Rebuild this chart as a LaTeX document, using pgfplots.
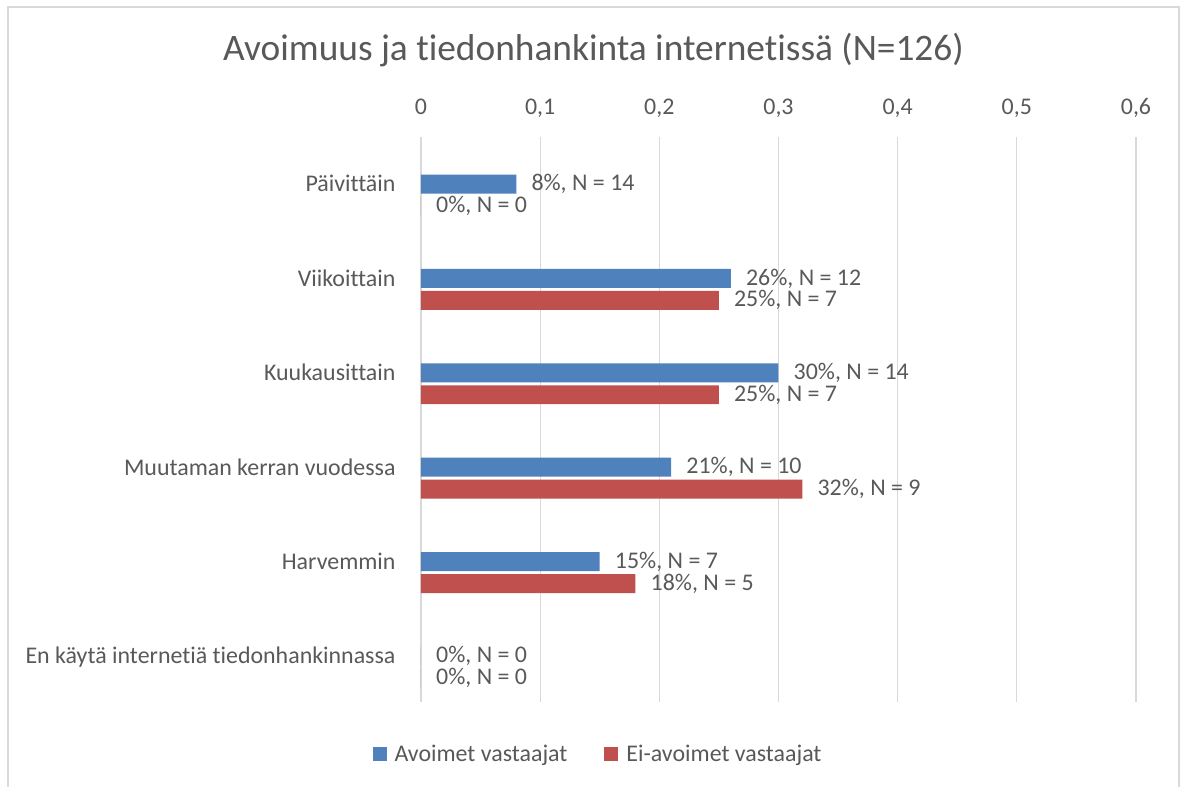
\documentclass[border=0pt]{standalone}
\usepackage{pgfplots}
\pgfplotsset{compat=1.18}
\usepackage{pgfplotstable}
\usepackage{fontspec}
\setmainfont[Ligatures=NoCommon]{Carlito}
\definecolor{txt}{HTML}{595959}
\definecolor{gridc}{HTML}{D9D9D9}
\definecolor{cblue}{HTML}{4F81BD}
\definecolor{cred}{HTML}{C0504D}

\pgfplotstableread[col sep=semicolon,row sep=\\]{
pos;val;lab\\
0;0.08;8\%, N = 14\\
1;0.26;26\%, N = 12\\
2;0.30;30\%, N = 14\\
3;0.21;21\%, N = 10\\
4;0.15;15\%, N = 7\\
5;0;0\%, N = 0\\
}\avoimet

\pgfplotstableread[col sep=semicolon,row sep=\\]{
pos;val;lab\\
0;0;0\%, N = 0\\
1;0.25;25\%, N = 7\\
2;0.25;25\%, N = 7\\
3;0.32;32\%, N = 9\\
4;0.18;18\%, N = 5\\
5;0;0\%, N = 0\\
}\eiavoimet

\begin{document}
\begin{tikzpicture}
\useasboundingbox (-421bp,-85bp) rectangle (763bp,702bp);
\fill[white] (-421bp,-85bp) rectangle (763bp,702bp);
\draw[gridc, line width=1.3bp] (-413bp,695bp) rectangle (758bp,-100bp);
\node[anchor=base, font=\fontsize{37.5}{44}\selectfont, text=txt] at (172.5bp,641bp) {Avoimuus ja tiedonhankinta internetissä (N=126)};
\begin{axis}[
  at={(0,0)}, anchor=south west,
  scale only axis, width=715bp, height=564.5bp,
  xmin=0, xmax=0.6, ymin=-0.609, ymax=5.371, y dir=reverse,
  axis line style={draw=none},
  xtick={0,0.1,0.2,0.3,0.4,0.5,0.6},
  xmajorgrids, major grid style={gridc, line width=1.3bp},
  xticklabel pos=upper,
  ytick={0,1,2,3,4,5},
  yticklabels={Päivittäin,Viikoittain,Kuukausittain,Muutaman kerran vuodessa,Harvemmin,En käytä internetiä tiedonhankinnassa},
  major tick length=0pt,
  tick label style={font=\fontsize{24}{28}\selectfont, text=txt},
  xticklabel style={anchor=base, yshift=23bp},
  yticklabel style={anchor=base east, xshift=-22bp, yshift=3bp},
  /pgf/number format/use comma,
  /pgf/number format/assume math mode=true,
  every node near coord/.append style={anchor=west, inner sep=0pt, xshift=15bp, font=\fontsize{24}{28}\selectfont, text=txt},
  legend columns=2,
  legend style={at={(0.2476,-0.0921)}, anchor=center, draw=none, fill=none, font=\fontsize{24}{28}\selectfont, text=txt,
    /tikz/every odd column/.append style={column sep=6bp},
    /tikz/every even column/.append style={column sep=35bp}},
  legend image code/.code={\fill[#1] (0bp,-7bp) rectangle (14bp,7bp);},
]
\addplot[xbar, fill=cblue, draw=none, bar width=0.201, bar shift=-0.116, nodes near coords, point meta=explicit symbolic,
  every node near coord/.append style={yshift=10.9bp}] table[x=val, y=pos, meta=lab] {\avoimet};
\addlegendentry{Avoimet vastaajat}
\addplot[xbar, fill=cred, draw=none, bar width=0.201, bar shift=0.116, nodes near coords, point meta=explicit symbolic,
  every node near coord/.append style={yshift=-10.9bp}] table[x=val, y=pos, meta=lab] {\eiavoimet};
\addlegendentry{Ei-avoimet vastaajat}
\end{axis}
\end{tikzpicture}
\end{document}
